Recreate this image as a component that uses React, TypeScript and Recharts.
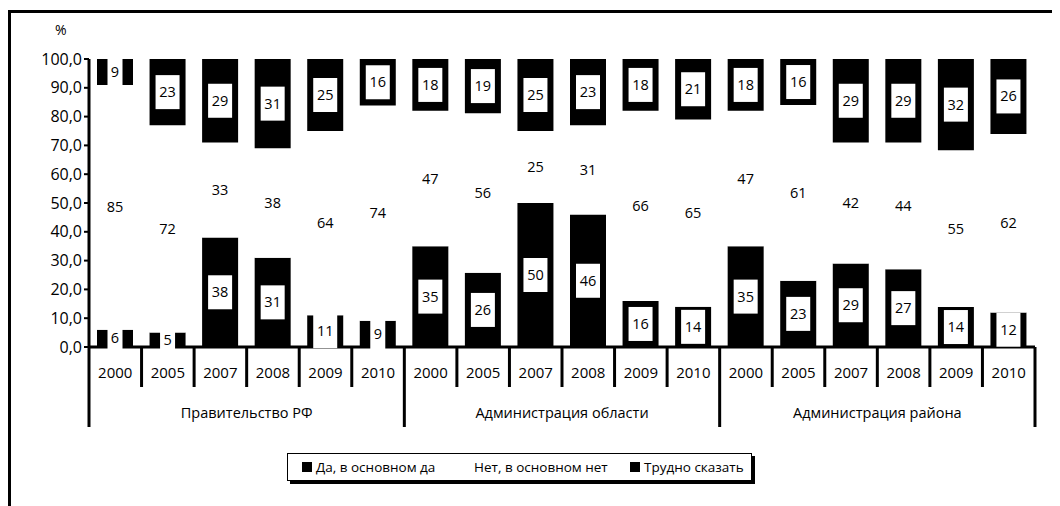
import { BarChart, Bar, XAxis, YAxis, LabelList } from "recharts";

const groups = ["Правительство РФ", "Администрация области", "Администрация района"];
const years = ["2000", "2005", "2007", "2008", "2009", "2010"];
const yes = [6, 5, 38, 31, 11, 9, 35, 26, 50, 46, 16, 14, 35, 23, 29, 27, 14, 12];
const no = [85, 72, 33, 38, 64, 74, 47, 56, 25, 31, 66, 65, 47, 61, 42, 44, 55, 62];
const hard = [9, 23, 29, 31, 25, 16, 18, 19, 25, 23, 18, 21, 18, 16, 29, 29, 32, 26];
const yTicks = [0, 0.1, 0.2, 0.3, 0.4, 0.5, 0.6, 0.7, 0.8, 0.9, 1];
const seriesNames = ["Да, в основном да", "Нет, в основном нет", "Трудно сказать"];
const seriesColors = ["#000000", "#ffffff", "#000000"];

const data = yes.map((v, i) => ({
  key: i,
  year: years[i % years.length],
  group: groups[Math.floor(i / years.length)],
  yes: v,
  no: no[i],
  hard: hard[i],
}));

const W = 1052;
const H = 498;
const M = { top: 51, right: 25, left: 21, bottom: 39 };
const Y_W = 60;
const X_H = 120;
const PLOT_L = M.left + Y_W;
const PLOT_R = W - M.right;
const AXIS_Y = H - M.bottom - X_H;
const BAND = (PLOT_R - PLOT_L) / data.length;
const FONT = "'Open Sans', sans-serif";

function BoxLabel(props: any) {
  const { x, y, width, height, value } = props;
  const h = Math.abs(height);
  const top = Math.min(y, y + height);
  const cx = x + width / 2;
  const cy = top + h / 2;
  const w = String(value).length > 1 ? 24 : 15;
  return (
    <g>
      <rect x={cx - w / 2} y={cy - 17} width={w} height={34} fill="#fff" />
      <text x={cx} y={cy + 5} textAnchor="middle" fontSize={14.5} fill="#000">
        {value}
      </text>
    </g>
  );
}

function PlainLabel(props: any) {
  const { x, y, width, height, value } = props;
  const top = Math.min(y, y + height);
  const cx = x + width / 2;
  const cy = top + Math.abs(height) / 2;
  return (
    <text x={cx} y={cy + 5} textAnchor="middle" fontSize={14.5} fill="#000">
      {value}
    </text>
  );
}

function CategoryTick(props: any) {
  const { x, payload } = props;
  const i = payload.index ?? payload.value;
  const row = data[i];
  const n = years.length;
  const right = x + BAND / 2;
  const groupEnd = i % n === n - 1;
  return (
    <g>
      <text x={x} y={AXIS_Y + 31} textAnchor="middle" fontSize={15} fill="#000">
        {row.year}
      </text>
      <line
        x1={right}
        x2={right}
        y1={AXIS_Y}
        y2={groupEnd ? AXIS_Y + 80 : AXIS_Y + 40}
        stroke="#000"
        strokeWidth={3}
      />
      {i === 0 && (
        <line x1={x - BAND / 2} x2={x - BAND / 2} y1={AXIS_Y} y2={AXIS_Y + 80} stroke="#000" strokeWidth={3} />
      )}
      {i % n === Math.floor(n / 2) - 1 && (
        <text x={right} y={AXIS_Y + 71} textAnchor="middle" fontSize={14.5} fill="#000">
          {row.group}
        </text>
      )}
    </g>
  );
}

export default function App() {
  return (
    <div style={{ position: "relative", width: W, height: H, fontFamily: FONT, background: "#fff" }}>
      <div
        style={{
          position: "absolute",
          left: 0,
          top: 2,
          width: W,
          height: H,
          borderTop: "3px solid #000",
          borderLeft: "3px solid #000",
          boxSizing: "border-box",
        }}
      />
      <div style={{ position: "absolute", left: 47, top: 12, fontSize: 14 }}>%</div>
      <BarChart
        width={W}
        height={H}
        data={data}
        margin={M}
        stackOffset="expand"
        barSize={36}
        style={{ position: "absolute", left: 0, top: 0, fontFamily: FONT }}
      >
        <YAxis
          width={Y_W}
          domain={[0, 1]}
          ticks={yTicks}
          interval={0}
          tickFormatter={(v: number) => (v * 100).toFixed(1).replace(".", ",")}
          tick={{ fontSize: 16, fill: "#000" }}
          axisLine={{ stroke: "#000", strokeWidth: 3 }}
          tickLine={{ stroke: "#000", strokeWidth: 2 }}
          tickSize={5}
        />
        <XAxis
          dataKey="key"
          height={X_H}
          interval={0}
          tick={<CategoryTick />}
          tickLine={false}
          axisLine={{ stroke: "#000", strokeWidth: 3 }}
        />
        <Bar dataKey="yes" stackId="a" fill={seriesColors[0]} isAnimationActive={false}>
          <LabelList dataKey="yes" content={<BoxLabel />} />
        </Bar>
        <Bar dataKey="no" stackId="a" fill={seriesColors[1]} isAnimationActive={false}>
          <LabelList dataKey="no" content={<PlainLabel />} />
        </Bar>
        <Bar dataKey="hard" stackId="a" fill={seriesColors[2]} isAnimationActive={false}>
          <LabelList dataKey="hard" content={<BoxLabel />} />
        </Bar>
      </BarChart>
      <div
        style={{
          position: "absolute",
          left: 279,
          top: 445,
          width: 465,
          height: 28,
          border: "1.5px solid #000",
          boxShadow: "3px 3px 0 #000",
          boxSizing: "border-box",
          display: "flex",
          alignItems: "center",
          fontSize: 13.5,
          background: "#fff",
        }}
      >
        {seriesNames.map((name, i) => (
          <div
            key={name}
            style={{
              position: "absolute",
              left: [14, 172, 342][i],
              display: "flex",
              alignItems: "center",
            }}
          >
            <span
              style={{
                display: "inline-block",
                width: 10,
                height: 10,
                background: seriesColors[i],
                marginRight: 4,
              }}
            />
            <span>{name}</span>
          </div>
        ))}
      </div>
    </div>
  );
}
